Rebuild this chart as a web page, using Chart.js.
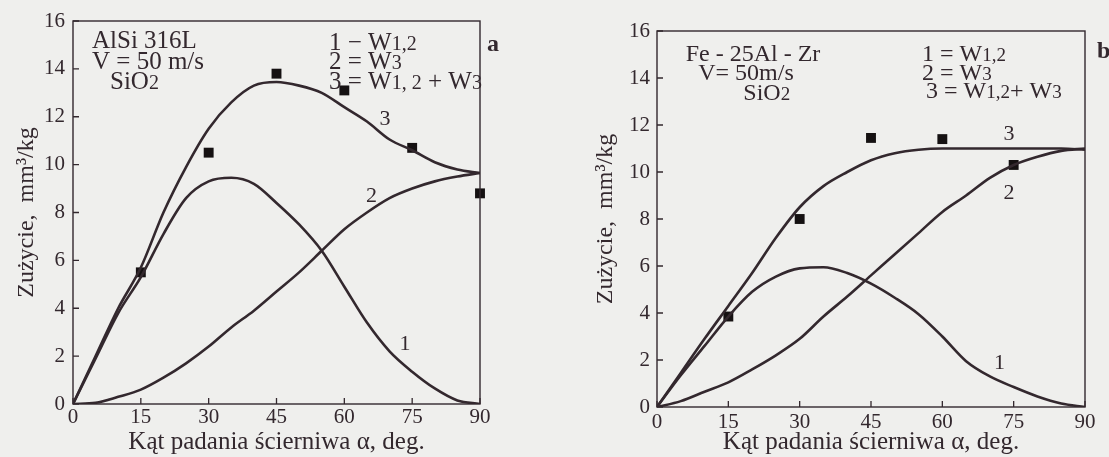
<!DOCTYPE html>
<html><head><meta charset="utf-8">
<script src="https://cdn.jsdelivr.net/npm/chart.js@4.4.1/dist/chart.umd.min.js"></script>
<style>
html,body{margin:0;padding:0;background:#efefed;}
#wrap{position:relative;width:1109px;height:457px;overflow:hidden;background:#efefed;}
#a{position:absolute;left:0;top:0;}
#b{position:absolute;left:555px;top:0;}
</style></head><body>
<div id="wrap">
<canvas id="a" width="545" height="457"></canvas>
<canvas id="b" width="554" height="457"></canvas>
</div>
<script>
// ---- data ----
const angles = [0,5,10,15,20,25,30,35,40,45,50,55,60,65,70,75,80,85,90];
const xTicks = [0,15,30,45,60,75,90];
const yTicks = [0,2,4,6,8,10,12,14,16];

// Panel a: AlSi 316L
const aW12   = [0,1.9,3.8,5.3,7.1,8.6,9.3,9.45,9.2,8.4,7.5,6.4,4.9,3.4,2.2,1.35,0.65,0.15,0];
const aW3    = [0,0.05,0.3,0.6,1.1,1.7,2.4,3.2,3.9,4.7,5.5,6.4,7.3,8.0,8.6,9.0,9.3,9.5,9.65];
const aSum   = [0,2.0,4.0,5.7,8.0,9.9,11.5,12.6,13.3,13.45,13.3,13.0,12.4,11.8,11.05,10.6,10.1,9.8,9.65];
const aExpX  = [15,30,45,60,75,90];
const aExpY  = [5.5,10.5,13.8,13.1,10.7,8.8];
const aCurveLabels = [['1',73.4,2.5],['2',66,8.7],['3',69,11.9]];
const aInfoLeft  = ['AlSi 316L','V = 50 m/s','SiO2'];
const aInfoRight = [[['1 \u2212 W',0],['1,2',1]],[['2 = W',0],['3',1]],[['3 = W',0],['1, 2',1],[' + W',0],['3',1]]];

// Panel b: Fe - 25Al - Zr
const bW12   = [0,1.35,2.6,3.85,4.9,5.55,5.9,5.95,5.7,5.25,4.65,3.95,3.0,1.95,1.3,0.85,0.45,0.15,0];
const bW3    = [0,0.25,0.65,1.05,1.6,2.2,2.9,3.85,4.7,5.6,6.5,7.4,8.3,9.0,9.75,10.3,10.65,10.9,11.0];
const bSum   = [0,1.45,2.9,4.3,5.7,7.2,8.5,9.4,10.0,10.5,10.8,10.95,11.0,11.0,11.0,11.0,11.0,11.0,10.95];
const bExpX  = [15,30,45,60,75];
const bExpY  = [3.85,8.0,11.45,11.4,10.3];
const bCurveLabels = [['1',72,1.85],['2',74,9.1],['3',74,11.6]];
const bInfoLeft  = ['Fe - 25Al - Zr','V= 50m/s','SiO2'];
const bInfoRight = [[['1 = W',0],['1,2',1]],[['2 = W',0],['3',1]],[['3 = W',0],['1,2',1],['+ W',0],['3',1]]];

const xTitle = 'K\u0105t padania \u015bcierniwa \u03b1, deg.';
const yTitle = 'Zu\u017cycie,  mm\u00b3/kg';

// ---- style ----
const FAM = '"Liberation Serif", "DejaVu Serif", serif';
const INK = '#33282e';

function drawRuns(ctx, x, y, parts, big, small) {
  let cx = x;
  for (const [t, s] of parts) {
    ctx.font = (s ? small : big) + 'px ' + FAM;
    ctx.fillText(t, cx, y);
    cx += ctx.measureText(t).width;
  }
}

function decor(p) {
  return {
    id: 'decor',
    afterDraw(chart) {
      const ctx = chart.ctx, ca = chart.chartArea;
      const xs = chart.scales.x, ys = chart.scales.y;
      ctx.save();
      ctx.strokeStyle = INK; ctx.lineWidth = 1.4;
      ctx.strokeRect(ca.left, ca.top, ca.right - ca.left, ca.bottom - ca.top);
      ctx.lineWidth = 1.3;
      ctx.beginPath();
      for (const v of yTicks) { const y = ys.getPixelForValue(v); ctx.moveTo(ca.left, y); ctx.lineTo(ca.left + 6, y); }
      for (const v of xTicks) { const x = xs.getPixelForValue(v); ctx.moveTo(x, ca.bottom); ctx.lineTo(x, ca.bottom - 6); }
      ctx.stroke();
      ctx.fillStyle = INK;
      // curve labels
      ctx.font = '22px ' + FAM; ctx.textAlign = 'center'; ctx.textBaseline = 'middle';
      for (const [t, x, y] of p.curveLabels) ctx.fillText(t, xs.getPixelForValue(x), ys.getPixelForValue(y));
      // info block
      ctx.textBaseline = 'alphabetic';
      ctx.font = p.infoSize + 'px ' + FAM;
      p.infoLeft.forEach((t, i) => {
        ctx.textAlign = p.leftAlign;
        const x = p.leftX[i];
        ctx.fillText(t === 'SiO2' ? 'SiO' : t, x, p.base[i]);
        if (t === 'SiO2') {
          const w = ctx.measureText('SiO').width;
          const x0 = p.leftAlign === 'center' ? x + w / 2 : x + w;
          ctx.textAlign = 'left';
          ctx.font = p.smallSize + 'px ' + FAM;
          ctx.fillText('2', x0, p.base[i]);
          ctx.font = p.infoSize + 'px ' + FAM;
        }
      });
      ctx.textAlign = 'left';
      p.infoRight.forEach((parts, i) => drawRuns(ctx, p.rightX[i], p.rbase[i], parts, p.infoSize, p.smallSize));
      ctx.font = 'bold 24px ' + FAM;
      ctx.fillText(p.letter, p.letterX, p.letterY);
      ctx.restore();
    }
  };
}

function makeChart(id, d, lay, p) {
  const line = (arr) => ({
    type: 'line',
    data: angles.map((x, i) => ({ x, y: arr[i] })),
    borderColor: INK, borderWidth: 2.6, pointRadius: 0,
    cubicInterpolationMode: 'monotone', fill: false
  });
  const tickFont = { family: FAM, size: 21 };
  new Chart(document.getElementById(id), {
    type: 'line',
    data: {
      datasets: [
        line(d.w12), line(d.w3), line(d.sum),
        { type: 'scatter', data: d.ex.map((x, i) => ({ x, y: d.ey[i] })), clip: false,
          pointStyle: 'rect', pointRadius: 7, backgroundColor: '#151112', borderWidth: 0, showLine: false }
      ]
    },
    options: {
      responsive: false, animation: false, devicePixelRatio: 1,
      layout: { padding: { top: lay.top, right: lay.right, left: 0, bottom: 0 } },
      plugins: { legend: { display: false }, tooltip: { enabled: false } },
      scales: {
        x: {
          type: 'linear', min: 0, max: 90,
          afterBuildTicks: s => { s.ticks = xTicks.map(v => ({ value: v })); },
          grid: { display: false, drawTicks: false }, border: { display: false },
          ticks: { color: INK, font: tickFont, padding: lay.xpad, maxRotation: 0 },
          title: { display: true, text: xTitle, color: INK, font: { family: FAM, size: 25 }, padding: { top: 0, bottom: lay.xtpad } },
          afterFit: s => { s.height = lay.xh; }
        },
        y: {
          type: 'linear', min: 0, max: 16,
          afterBuildTicks: s => { s.ticks = yTicks.map(v => ({ value: v })); },
          grid: { display: false, drawTicks: false }, border: { display: false },
          ticks: { color: INK, font: tickFont, padding: lay.ypad },
          title: { display: true, text: yTitle, color: INK, font: { family: FAM, size: 24 }, padding: { top: lay.ytpad, bottom: 0 } },
          afterFit: s => { s.width = lay.yw; }
        }
      }
    },
    plugins: [decor(p)]
  });
}

makeChart('a',
  { w12: aW12, w3: aW3, sum: aSum, ex: aExpX, ey: aExpY },
  { top: 21, right: 65, yw: 73, xh: 53, xpad: 1, xtpad: 0, ypad: 8, ytpad: 12 },
  { curveLabels: aCurveLabels, infoLeft: aInfoLeft, infoRight: aInfoRight,
    leftAlign: 'left', leftX: [92, 92, 110], rightX: [329, 329, 329], base: [48, 69, 89], rbase: [50, 69, 89],
    infoSize: 25, smallSize: 20, letter: 'a', letterX: 487, letterY: 51 });

makeChart('b',
  { w12: bW12, w3: bW3, sum: bSum, ex: bExpX, ey: bExpY },
  { top: 31, right: 24, yw: 102, xh: 50, xpad: 3, xtpad: 0, ypad: 7, ytpad: 36 },
  { curveLabels: bCurveLabels, infoLeft: bInfoLeft, infoRight: bInfoRight,
    leftAlign: 'center', leftX: [198, 191, 207], rightX: [367, 367, 371], base: [61, 80, 100], rbase: [61, 80, 98],
    infoSize: 24, smallSize: 19, letter: 'b', letterX: 542, letterY: 58 });
</script>
</body></html>
